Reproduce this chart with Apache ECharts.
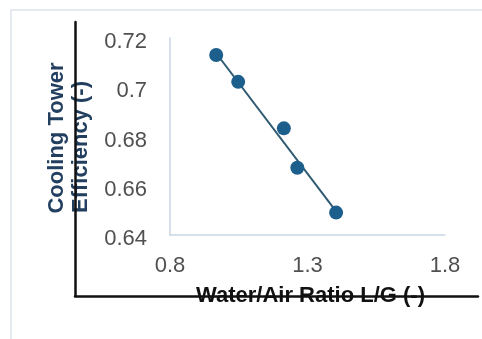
<!DOCTYPE html>
<html>
<head>
<meta charset="utf-8">
<script src="https://cdn.jsdelivr.net/npm/echarts@6/dist/echarts.min.js"></script>
<style>
  html, body { margin: 0; padding: 0; background: #fff; }
  #chart { width: 482px; height: 339px; }
</style>
</head>
<body>
<div id="chart"></div>
<script>
    // values
    var lgRatio = [0.968, 1.048, 1.214, 1.263, 1.404];
    var efficiency = [0.7131, 0.7022, 0.6833, 0.6673, 0.6491];
    // linear trendline end points
    var trendX = [0.968, 1.404];
    var trendY = [0.7138, 0.6496];

    var xTitle = 'Water/Air Ratio L/G (-)';
    var yTitle = ['Cooling Tower', 'Efficiency (-)'];

    var points = lgRatio.map(function (x, i) { return [x, efficiency[i]]; });
    var trend = trendX.map(function (x, i) { return [x, trendY[i]]; });

    var myChart = echarts.init(document.getElementById('chart'));

    var hidden = { axisTick: { show: false }, axisLabel: { show: false }, splitLine: { show: false } };

    option = {
        animation: false,
        textStyle: { fontFamily: 'Liberation Sans, Arial, sans-serif' },
        grid: [
            // inner plot
            { left: 170, right: 37, top: 38, bottom: 104 },
            // outer black axes
            { left: 75, right: 4, top: 22, bottom: 43 },
            // light frame (top + left only)
            { left: 11, right: 0, top: 10, bottom: 0 }
        ],
        xAxis: [{
            gridIndex: 0,
            type: 'value',
            min: 0.8, max: 1.8, interval: 0.5,
            axisLine: { show: true, lineStyle: { color: '#c8d6e4', width: 1.5 } },
            axisTick: { show: false },
            splitLine: { show: false },
            axisLabel: { color: '#505050', fontSize: 22, margin: 20 }
        }, echarts.util.extend({
            gridIndex: 1,
            type: 'value',
            axisLine: { show: true, onZero: false, lineStyle: { color: '#111', width: 2.5 } },
            name: xTitle,
            nameLocation: 'middle',
            nameGap: 0,
            nameTextStyle: {
                color: '#111', fontSize: 22, fontWeight: 'bold',
                verticalAlign: 'middle', padding: [0, 0, 0, 68]
            }
        }, hidden), echarts.util.extend({
            gridIndex: 2,
            type: 'value',
            position: 'top',
            axisLine: { show: true, onZero: false, lineStyle: { color: '#dde4ec', width: 1.5 } }
        }, hidden)],
        yAxis: [{
            gridIndex: 0,
            type: 'value',
            min: 0.64, max: 0.72, interval: 0.02,
            axisLine: { show: true, lineStyle: { color: '#c8d6e4', width: 1.5 } },
            axisTick: { show: false },
            splitLine: { show: false },
            axisLabel: { color: '#505050', fontSize: 22, margin: 23, verticalAlign: 'top', lineHeight: 8 }
        }, echarts.util.extend({
            gridIndex: 1,
            type: 'value',
            axisLine: { show: true, onZero: false, lineStyle: { color: '#111', width: 2.5 } },
            name: '{a|' + yTitle[0] + '}\n{b|' + yTitle[1] + '}',
            nameLocation: 'middle',
            nameGap: -18,
            nameRotate: 90,
            nameTextStyle: {
                color: '#223f5f', fontSize: 22, fontWeight: 'bold', lineHeight: 24, align: 'center',
                padding: [0, 0, 0, 24],
                rich: {
                    a: { color: '#223f5f', fontSize: 22, fontWeight: 'bold', lineHeight: 24, padding: [0, 0, 0, 18] },
                    b: { color: '#223f5f', fontSize: 22, fontWeight: 'bold', lineHeight: 24 }
                }
            }
        }, hidden), echarts.util.extend({
            gridIndex: 2,
            type: 'value',
            position: 'left',
            axisLine: { show: true, onZero: false, lineStyle: { color: '#dde4ec', width: 1.5 } }
        }, hidden)],
        series: [{
            type: 'line',
            xAxisIndex: 0,
            yAxisIndex: 0,
            data: trend,
            showSymbol: false,
            lineStyle: { color: '#2e5a72', width: 2 },
            z: 2
        }, {
            type: 'scatter',
            xAxisIndex: 0,
            yAxisIndex: 0,
            data: points,
            symbolSize: 14,
            itemStyle: { color: '#1c5e8c', opacity: 1 },
            z: 3
        }]
    };

    myChart.setOption(option);
</script>
</body>
</html>
